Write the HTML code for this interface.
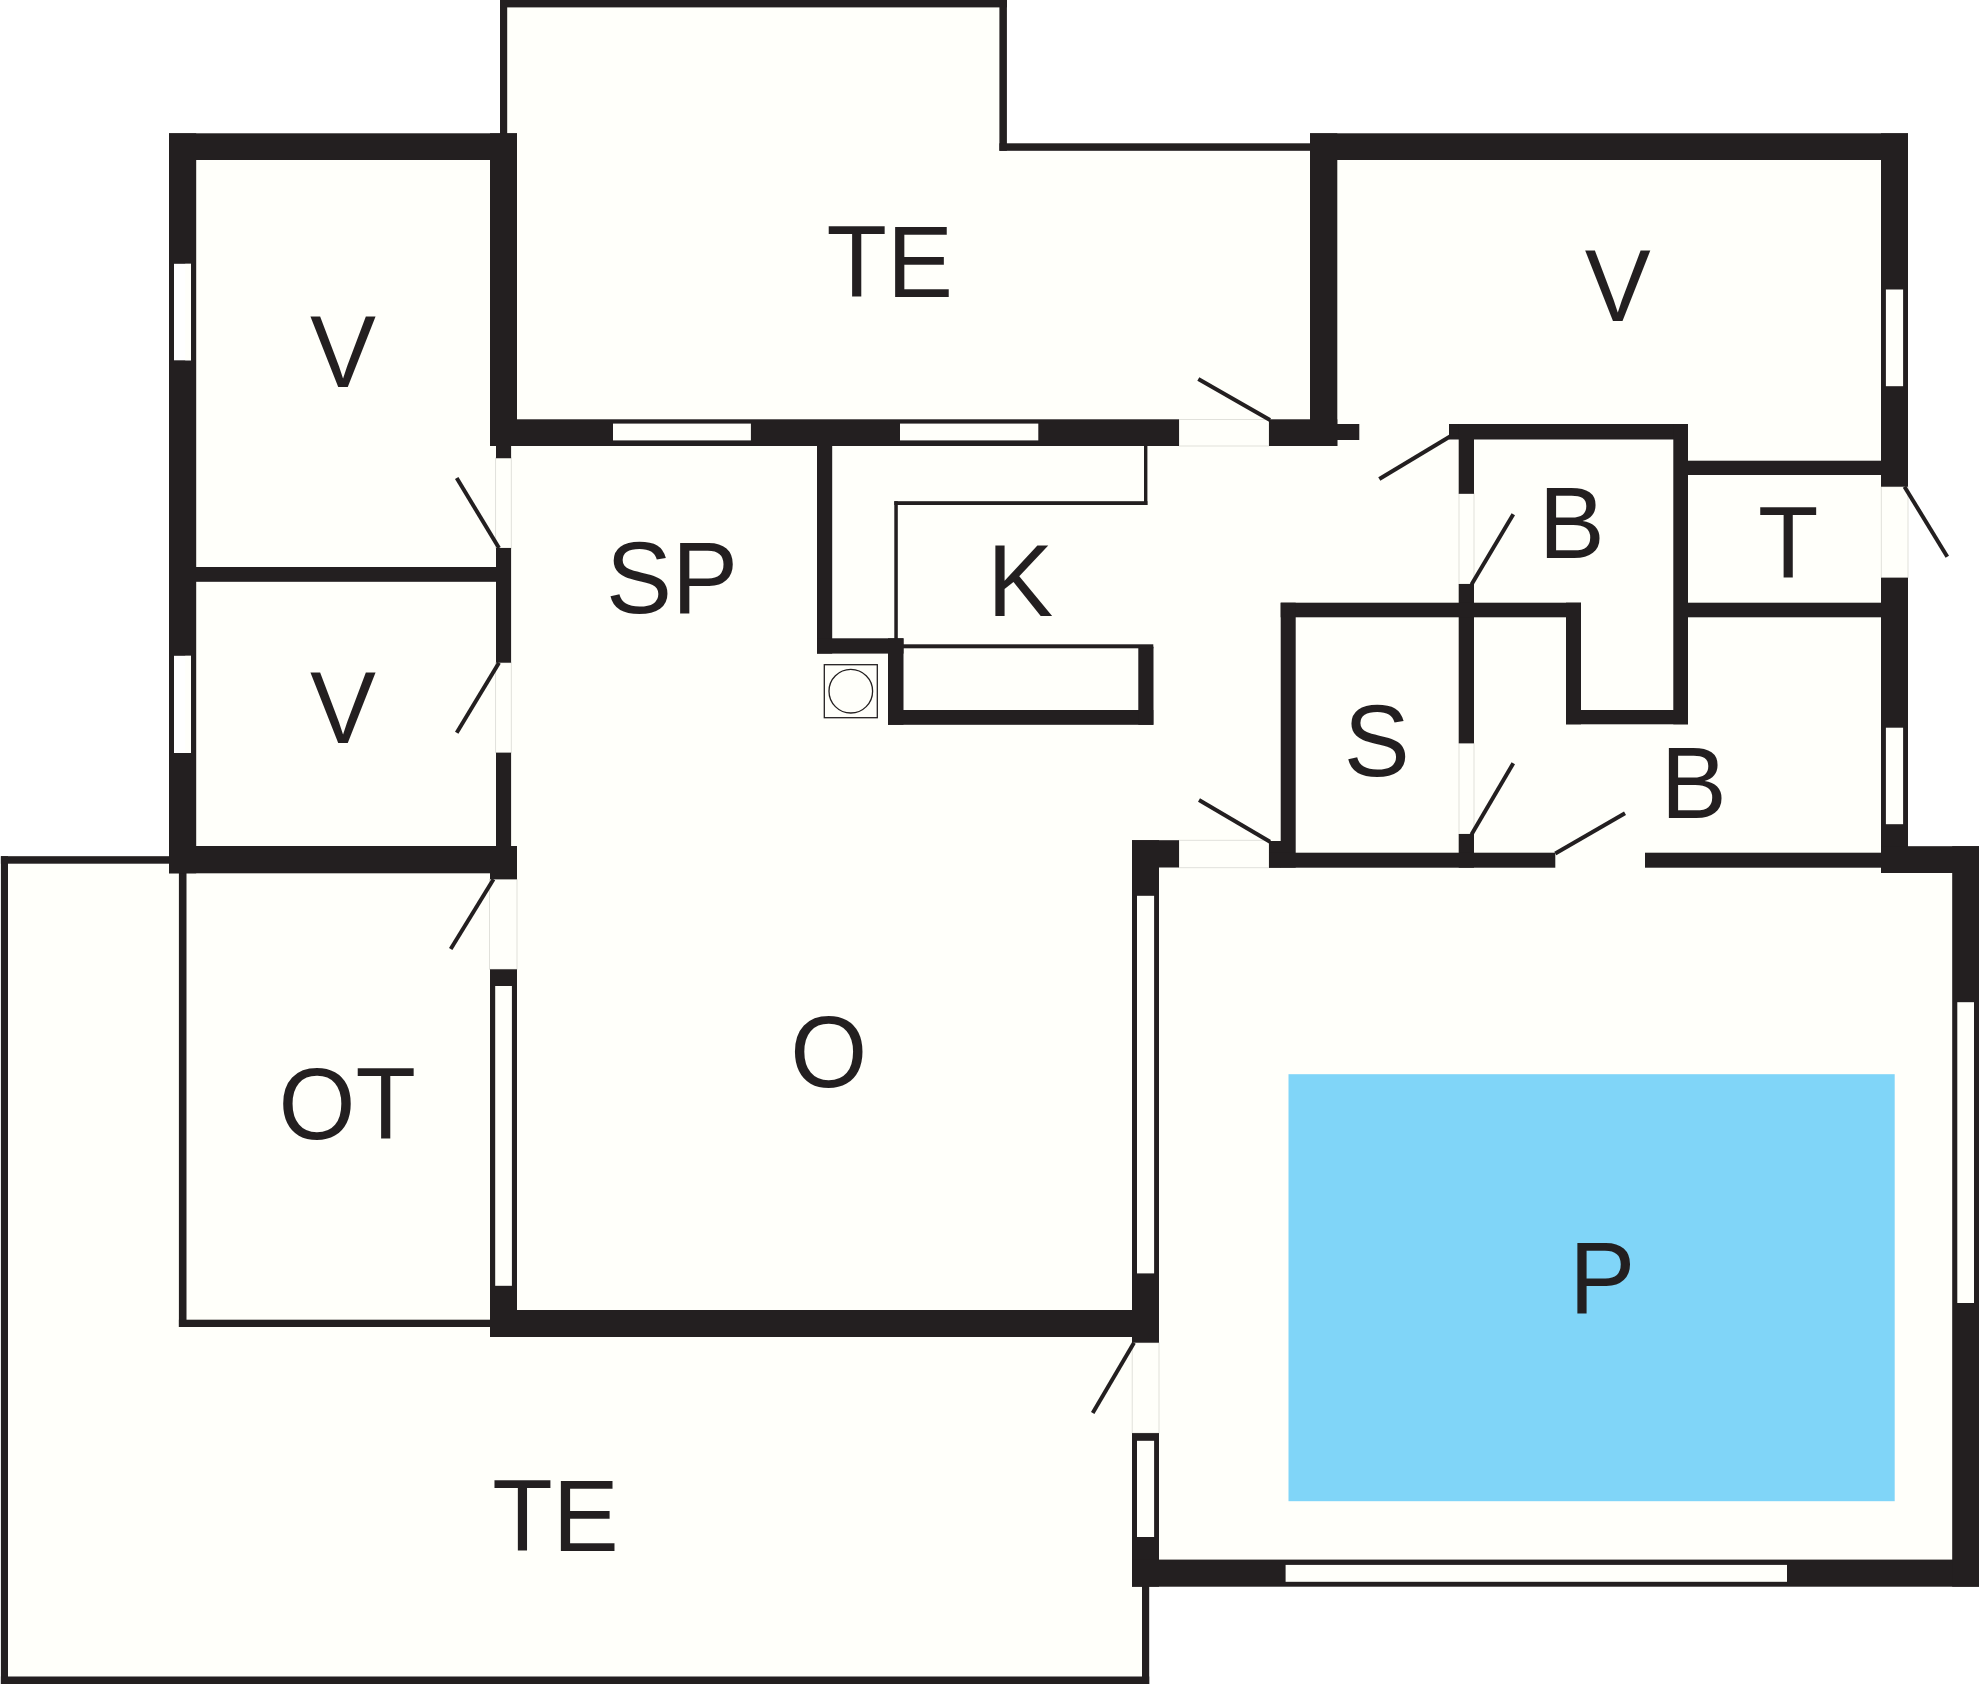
<!DOCTYPE html>
<html lang="da"><head><meta charset="utf-8"><title>Plantegning</title>
<style>
html,body{margin:0;padding:0;background:#ffffff;}
body{width:1980px;height:1684px;overflow:hidden;}
svg{display:block;}
</style></head><body>
<svg width="1980" height="1684" viewBox="0 0 1980 1684" font-family="'Liberation Sans', Arial, Helvetica, sans-serif" fill="#231f20">
<polygon points="501,0 1007,0 1007,143.5 1310,143.5 1310,133.3 1908,133.3 1908,846.2 1979,846.2 1979,1586.7 1149,1586.7 1149,1684 1,1684 1,856 169,856 169,133.3 501,133.3" fill="#fffffa"/>
<rect x="1288.5" y="1074.2" width="606.2" height="427" fill="#80d5f8"/>
<rect x="495.6" y="458" width="15.7" height="90" fill="#fffffa" stroke="#deded8" stroke-width="0.9"/>
<rect x="495.6" y="662.7" width="15.7" height="90" fill="#fffffa" stroke="#deded8" stroke-width="0.9"/>
<rect x="489.5" y="879.3" width="27.5" height="90" fill="#fffffa" stroke="#deded8" stroke-width="0.9"/>
<rect x="1179" y="419.5" width="90" height="26.5" fill="#fffffa" stroke="#deded8" stroke-width="0.9"/>
<rect x="1459" y="493.3" width="15" height="90.7" fill="#fffffa" stroke="#deded8" stroke-width="0.9"/>
<rect x="1459" y="743.3" width="15" height="90.7" fill="#fffffa" stroke="#deded8" stroke-width="0.9"/>
<rect x="1881.3" y="486.7" width="26.7" height="91" fill="#fffffa" stroke="#deded8" stroke-width="0.9"/>
<rect x="1179" y="840.3" width="90" height="27.4" fill="#fffffa" stroke="#deded8" stroke-width="0.9"/>
<rect x="1132.2" y="1342.7" width="26.8" height="90.4" fill="#fffffa" stroke="#deded8" stroke-width="0.9"/>
<rect x="500" y="0" width="7.2" height="134" fill="#231f20"/>
<rect x="500" y="0" width="506.9" height="7.4" fill="#231f20"/>
<rect x="999.4" y="0" width="7.5" height="150.8" fill="#231f20"/>
<rect x="999.4" y="143.3" width="311.6" height="7.5" fill="#231f20"/>
<rect x="0.9" y="856.2" width="7.1" height="827.8" fill="#231f20"/>
<rect x="0.9" y="856.2" width="169.1" height="7.5" fill="#231f20"/>
<rect x="0.9" y="1676.5" width="1148.3" height="7.5" fill="#231f20"/>
<rect x="1142" y="1586" width="7.2" height="98" fill="#231f20"/>
<rect x="178.9" y="873" width="7.6" height="454" fill="#231f20"/>
<rect x="178.9" y="1319.7" width="312.1" height="7.3" fill="#231f20"/>
<rect x="169" y="133.3" width="27.2" height="740" fill="#231f20"/>
<rect x="169" y="133.3" width="348" height="26.7" fill="#231f20"/>
<rect x="490" y="133.3" width="27" height="312.7" fill="#231f20"/>
<rect x="169" y="846" width="348" height="27.3" fill="#231f20"/>
<rect x="490" y="846" width="27" height="33.3" fill="#231f20"/>
<rect x="496" y="446" width="15.1" height="12.2" fill="#231f20"/>
<rect x="496" y="548" width="15.1" height="114.7" fill="#231f20"/>
<rect x="496" y="752.7" width="15.1" height="93.3" fill="#231f20"/>
<rect x="196" y="567" width="301" height="14.8" fill="#231f20"/>
<rect x="517" y="419.3" width="662" height="26.7" fill="#231f20"/>
<rect x="1269" y="419.3" width="68.3" height="26.7" fill="#231f20"/>
<rect x="1310" y="133.3" width="27.3" height="312.7" fill="#231f20"/>
<rect x="1337" y="424" width="22.3" height="16" fill="#231f20"/>
<rect x="1310" y="133.3" width="598" height="26.7" fill="#231f20"/>
<rect x="1881" y="133.3" width="27" height="353.4" fill="#231f20"/>
<rect x="1881" y="577.7" width="27" height="295.3" fill="#231f20"/>
<rect x="1449" y="424" width="239" height="15.5" fill="#231f20"/>
<rect x="1458.7" y="424" width="15.3" height="69.8" fill="#231f20"/>
<rect x="1458.7" y="584" width="15.3" height="159.3" fill="#231f20"/>
<rect x="1458.7" y="834" width="15.3" height="33.7" fill="#231f20"/>
<rect x="1673.3" y="424" width="14.7" height="300.3" fill="#231f20"/>
<rect x="1688" y="460.7" width="194" height="14.3" fill="#231f20"/>
<rect x="1688" y="602.7" width="194" height="14.6" fill="#231f20"/>
<rect x="1280.7" y="602.7" width="300.3" height="14.6" fill="#231f20"/>
<rect x="1566" y="602.7" width="15" height="121.6" fill="#231f20"/>
<rect x="1566" y="710" width="122" height="14.3" fill="#231f20"/>
<rect x="1280.7" y="602.7" width="15" height="265" fill="#231f20"/>
<rect x="1269" y="841" width="12" height="26.7" fill="#231f20"/>
<rect x="1269" y="852.7" width="286.3" height="15" fill="#231f20"/>
<rect x="1645" y="852.7" width="237" height="15" fill="#231f20"/>
<rect x="1132" y="840.2" width="47" height="27.3" fill="#231f20"/>
<rect x="1132" y="840.2" width="27" height="502.5" fill="#231f20"/>
<rect x="1132" y="1433.1" width="27" height="153.6" fill="#231f20"/>
<rect x="1132" y="1559.6" width="847" height="27.1" fill="#231f20"/>
<rect x="1952.2" y="846.2" width="26.8" height="740.5" fill="#231f20"/>
<rect x="1881" y="846.2" width="98" height="26.8" fill="#231f20"/>
<rect x="490" y="1310" width="669" height="27" fill="#231f20"/>
<rect x="490" y="969.3" width="27" height="367.7" fill="#231f20"/>
<rect x="817" y="446" width="15.2" height="207.6" fill="#231f20"/>
<rect x="817" y="638.3" width="86.5" height="15.3" fill="#231f20"/>
<rect x="888" y="638.3" width="15.5" height="86.5" fill="#231f20"/>
<rect x="888" y="710" width="265.3" height="14.8" fill="#231f20"/>
<rect x="1138.3" y="646.7" width="15.2" height="78.1" fill="#231f20"/>
<rect x="903" y="644.3" width="250.3" height="4" fill="#231f20"/>
<rect x="1144" y="446" width="3.4" height="59" fill="#231f20"/>
<rect x="894.3" y="501.2" width="253.1" height="3.8" fill="#231f20"/>
<rect x="894.3" y="501.2" width="3.5" height="137.8" fill="#231f20"/>
<rect x="174" y="263.8" width="17" height="96.5" fill="#ffffff"/>
<rect x="185.2" y="263.8" width="5.8" height="96.5" fill="#fffffa"/>
<rect x="174" y="655.8" width="17" height="97.2" fill="#ffffff"/>
<rect x="185.2" y="655.8" width="5.8" height="97.2" fill="#fffffa"/>
<rect x="613" y="423.6" width="137.9" height="16.8" fill="#fffffa"/>
<rect x="900" y="423.6" width="138.3" height="16.8" fill="#fffffa"/>
<rect x="1885.9" y="289.5" width="17.2" height="96.7" fill="#fffffa"/>
<rect x="1885.9" y="727.7" width="17.2" height="96.5" fill="#fffffa"/>
<rect x="495.2" y="986" width="16.7" height="299.8" fill="#fffffa"/>
<rect x="1137" y="895.8" width="17.1" height="377.6" fill="#fffffa"/>
<rect x="1137" y="1440.8" width="17.1" height="96.2" fill="#fffffa"/>
<rect x="1285.6" y="1564.9" width="501.4" height="16.9" fill="#fffffa"/>
<rect x="1957.3" y="1002.2" width="16.7" height="300.8" fill="#fffffa"/>
<rect x="824.3" y="664.7" width="53" height="53" fill="none" stroke="#231f20" stroke-width="1.3"/>
<circle cx="850.8" cy="691.2" r="21.8" fill="none" stroke="#231f20" stroke-width="1.3"/>
<line x1="456.7" y1="478" x2="499" y2="548" stroke="#231f20" stroke-width="4.0"/>
<line x1="456.7" y1="732.7" x2="499" y2="662.7" stroke="#231f20" stroke-width="4.0"/>
<line x1="450.7" y1="949" x2="493.5" y2="879.3" stroke="#231f20" stroke-width="4.0"/>
<line x1="1198.3" y1="379" x2="1270" y2="420" stroke="#231f20" stroke-width="4.0"/>
<line x1="1379.3" y1="479" x2="1450" y2="436.5" stroke="#231f20" stroke-width="4.0"/>
<line x1="1513.3" y1="514.3" x2="1471.5" y2="584.5" stroke="#231f20" stroke-width="4.0"/>
<line x1="1513.3" y1="763.3" x2="1471.5" y2="834.5" stroke="#231f20" stroke-width="4.0"/>
<line x1="1625" y1="813.3" x2="1555.3" y2="853.5" stroke="#231f20" stroke-width="4.0"/>
<line x1="1904.5" y1="486.7" x2="1947.3" y2="556.7" stroke="#231f20" stroke-width="4.0"/>
<line x1="1199" y1="800" x2="1270" y2="841.7" stroke="#231f20" stroke-width="4.0"/>
<line x1="1092.7" y1="1413" x2="1134" y2="1342.7" stroke="#231f20" stroke-width="4.0"/>
<text transform="translate(826.60,296.90) scale(0.973,1)" font-size="101.7">TE</text>
<text transform="translate(310.00,386.80) scale(0.973,1)" font-size="101.7">V</text>
<text transform="translate(1584.80,320.90) scale(0.973,1)" font-size="101.7">V</text>
<text transform="translate(310.00,742.90) scale(0.973,1)" font-size="101.7">V</text>
<text transform="translate(606.10,613.00) scale(0.973,1)" font-size="101.7">SP</text>
<text transform="translate(987.30,616.00) scale(0.973,1)" font-size="101.7">K</text>
<text transform="translate(1538.70,558.10) scale(0.973,1)" font-size="101.7">B</text>
<text transform="translate(1758.10,577.80) scale(0.973,1)" font-size="101.7">T</text>
<text transform="translate(1343.70,776.20) scale(0.973,1)" font-size="101.7">S</text>
<text transform="translate(1660.80,818.30) scale(0.973,1)" font-size="101.7">B</text>
<text transform="translate(278.50,1138.90) scale(0.973,1)" font-size="101.7">OT</text>
<text transform="translate(790.30,1087.20) scale(0.973,1)" font-size="101.7">O</text>
<text transform="translate(1569.30,1313.20) scale(0.973,1)" font-size="101.7">P</text>
<text transform="translate(492.20,1551.10) scale(0.973,1)" font-size="101.7">TE</text>
</svg>
</body></html>
